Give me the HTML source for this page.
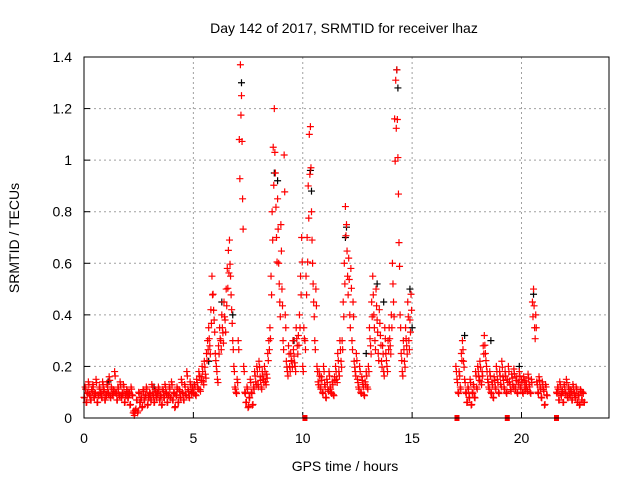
<!DOCTYPE html>
<html><head><meta charset="utf-8"><style>
body{margin:0;background:#fff}
svg{display:block;font-family:"Liberation Sans",sans-serif}
</style></head><body>
<svg id="chart" width="640" height="480">
<text x="344" y="33" font-size="14" text-anchor="middle">Day 142 of 2017, SRMTID for receiver lhaz</text>
<text x="345" y="471" font-size="14" text-anchor="middle">GPS time / hours</text>
<text x="19" y="238" font-size="14" text-anchor="middle" transform="rotate(-90 19 238)">SRMTID / TECUs</text>
<g id="grid"></g>
<g id="axes"></g>
<g id="black"></g>
<g id="red"></g>
<rect x="84" y="57" width="525" height="361" fill="none" stroke="#000" stroke-width="1"/>
</svg>
<script>
const xTicks=[0,5,10,15,20];
const yTicks=[0,0.2,0.4,0.6,0.8,1,1.2,1.4];
const yTickLabels=["0","0.2","0.4","0.6","0.8","1","1.2","1.4"];
const segStep=0.05;
const redSegStarts=[0,5,7,8.5,10,11.5,13,17,21.6];
const redSegValues=[
[0.08,0.12,0.06,0.10,0.14,0.09,0.07,0.11,0.13,0.08,0.10,0.15,0.06,0.09,0.12,0.10,0.08,0.14,0.11,0.07,
0.09,0.13,0.10,0.16,0.08,0.12,0.09,0.11,0.18,0.10,0.07,0.12,0.09,0.14,0.08,0.10,0.13,0.06,0.09,0.11,
0.08,0.10,0.05,0.12,0.09,0.02,0.01,0.03,0.07,0.02,0.10,0.06,0.08,0.04,0.11,0.07,0.09,0.12,0.05,0.08,
0.10,0.07,0.13,0.09,0.06,0.11,0.08,0.10,0.12,0.07,0.09,0.05,0.11,0.08,0.13,0.10,0.06,0.09,0.12,0.08,
0.14,0.07,0.10,0.04,0.09,0.12,0.06,0.11,0.08,0.15,0.10,0.07,0.13,0.09,0.18,0.11,0.08,0.14,0.10,0.12],
[0.10,0.13,0.09,0.15,0.12,0.18,0.11,0.16,0.20,0.14,0.22,0.17,0.25,0.30,0.35,0.28,0.42,0.55,0.48,0.38,
0.25,0.20,0.15,0.28,0.35,0.30,0.40,0.33,0.45,0.38,0.50,0.58,0.65,0.69,0.55,0.42,0.30,0.20,0.12,0.10],
[0.15,0.30,1.08,1.37,1.25,0.85,0.20,0.10,0.06,0.12,0.04,0.08,0.15,0.10,0.05,0.12,0.18,0.14,0.20,0.13,
0.22,0.16,0.12,0.18,0.15,0.20,0.14,0.17,0.25,0.30],
[0.35,0.55,0.80,1.05,1.20,0.95,0.70,0.85,0.60,0.45,0.75,0.50,0.30,1.02,0.40,0.22,0.18,0.28,0.20,0.25,
0.22,0.30,0.24,0.20,0.35,0.28,0.32,0.40,0.55,0.70],
[0.20,0.35,0.30,0.55,0.70,0.90,1.10,1.13,0.80,0.60,0.45,0.30,0.50,0.20,0.14,0.18,0.12,0.16,0.10,0.20,
0.13,0.08,0.15,0.11,0.18,0.12,0.10,0.14,0.09,0.16],
[0.20,0.15,0.25,0.18,0.30,0.22,0.30,0.45,0.60,0.82,0.75,0.55,0.62,0.40,0.58,0.30,0.45,0.22,0.18,0.25,
0.15,0.12,0.20,0.10,0.16,0.13,0.09,0.14,0.18,0.12],
[0.20,0.35,0.28,0.45,0.55,0.40,0.30,0.50,0.38,0.25,0.42,0.32,0.22,0.28,0.18,0.35,0.25,0.20,0.30,0.35,
0.28,0.40,0.60,0.45,1.16,1.31,1.35,1.01,0.68,0.40,0.25,0.18,0.30,0.22,0.35,0.28,0.45,0.30,0.38,0.48],
[0.20,0.15,0.10,0.18,0.12,0.25,0.30,0.22,0.15,0.10,0.06,0.12,0.08,0.15,0.05,0.10,0.13,0.08,0.18,0.12,
0.20,0.16,0.22,0.14,0.18,0.28,0.32,0.25,0.20,0.15,0.12,0.18,0.10,0.14,0.08,0.16,0.12,0.20,0.15,0.10,
0.18,0.13,0.22,0.16,0.12,0.18,0.10,0.15,0.20,0.14,0.11,0.17,0.13,0.19,0.12,0.16,0.10,0.14,0.18,0.12,
0.15,0.10,0.16,0.12,0.14,0.11,0.17,0.13,0.10,0.15,0.45,0.50,0.35,0.40,0.14,0.10,0.16,0.12,0.08,0.14,
0.11,0.05,0.13,0.09],
[0.10,0.12,0.07,0.14,0.09,0.11,0.06,0.13,0.10,0.15,0.08,0.12,0.09,0.11,0.07,0.13,0.10,0.08,0.12,0.06,
0.09,0.05,0.11,0.07,0.10,0.06]];
const redZeroTimes=[10.1,17.05,19.35,21.6];
const blackTimes=[7.2,8.7,8.85,10.35,10.4,11.95,12.0,13.7,14.3,14.35,14.9,17.4,18.6,20.55,6.3,6.8,9.6,12.9,5.7,3.2,1.1,15.0,19.9,13.4];
const blackValues=[1.30,0.95,0.92,0.96,0.88,0.70,0.74,0.45,1.35,1.28,0.50,0.32,0.30,0.48,0.45,0.40,0.30,0.25,0.22,0.12,0.14,0.35,0.20,0.52];
const X=t=>84+t*(525/24);
const Y=v=>418-v*(361/1.4);
const NS="http://www.w3.org/2000/svg";
function mk(tag,attrs,parent){const e=document.createElementNS(NS,tag);for(const k in attrs)e.setAttribute(k,attrs[k]);parent.appendChild(e);return e;}
const grid=document.getElementById('grid'),axes=document.getElementById('axes');
xTicks.forEach(t=>{
  const x=X(t);
  if(t>0){const g=mk('line',{x1:x,x2:x,y1:57,y2:418,stroke:'#a0a0a0','stroke-dasharray':'2,3'},grid);
  
  }
  const tk=mk('line',{x1:x,x2:x,y1:418,y2:412,stroke:'#000'},axes);
  
  
  const tx=mk('text',{x:x,y:443,'font-size':14,'text-anchor':'middle'},axes);tx.textContent=t;
  
  
});
yTicks.forEach((v,i)=>{
  const y=Y(v);
  if(v>0&&v<1.4){const g=mk('line',{x1:84,x2:609,y1:y,y2:y,stroke:'#a0a0a0','stroke-dasharray':'2,3'},grid);
  
  }
  const tk=mk('line',{x1:84,x2:90,y1:y,y2:y,stroke:'#000'},axes);
  
  
  const tx=mk('text',{x:72,y:y+5,'font-size':14,'text-anchor':'end'},axes);tx.textContent=yTickLabels[i];
  
  
});
function plus(g,t,v,color){
  const x=X(t),y=Y(v);
  const p=mk('path',{d:`M${x-3.5},${y}h7M${x},${y-3.5}v7`,stroke:color,'stroke-width':1.2,fill:'none'},g);
  
  
}
const bg=document.getElementById('black'),rg=document.getElementById('red');
blackTimes.forEach((t,i)=>plus(bg,t,blackValues[i],'#000'));
redSegStarts.forEach((s,si)=>redSegValues[si].forEach((v,i)=>{
  const t=s+i*segStep;
  plus(rg,t,v,'#f00');
  plus(rg,t+0.025,v*0.85+0.01,'#f00');
}));
redZeroTimes.forEach(t=>{
  const r=mk('rect',{x:X(t)-2.5,y:415,width:5,height:6,fill:'#f00'},rg);
  
  
});
</script>
</body></html>
